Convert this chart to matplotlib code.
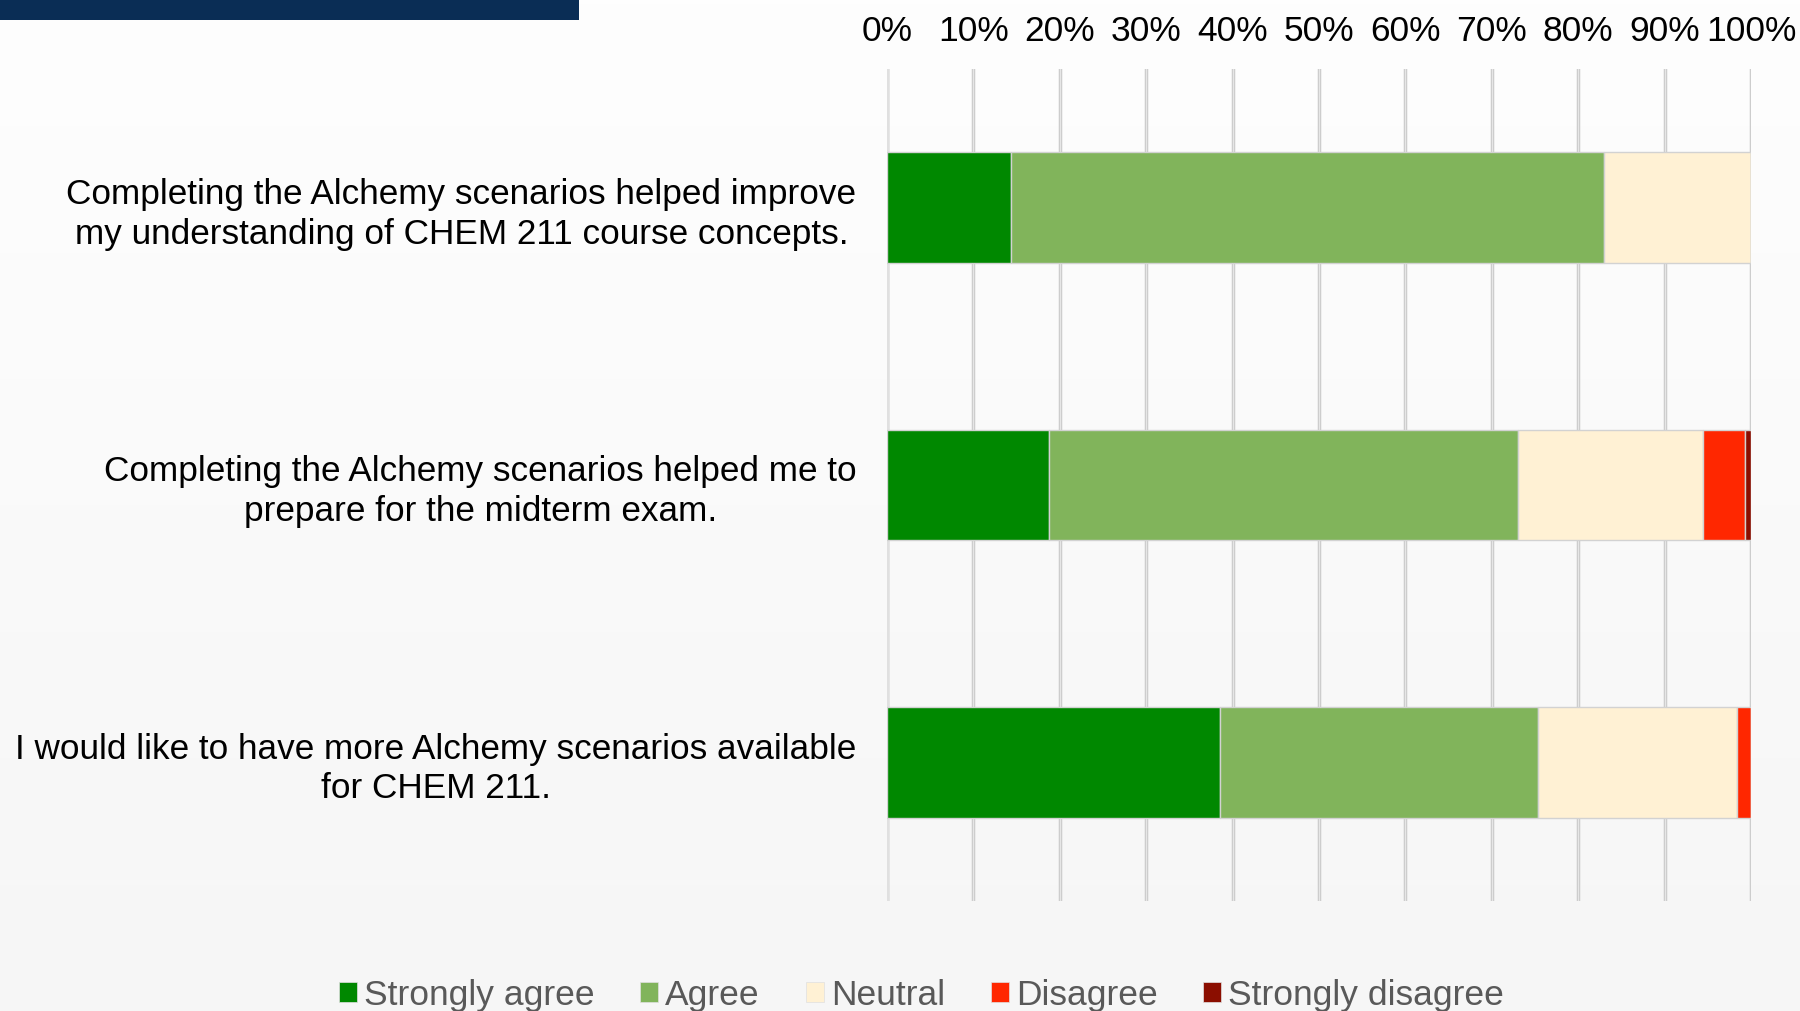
import numpy as np
import matplotlib
matplotlib.use("Agg")
import matplotlib.pyplot as plt
from matplotlib.patches import Rectangle, Patch
from matplotlib.colors import LinearSegmentedColormap

plt.rcParams['font.family'] = ['Liberation Sans', 'DejaVu Sans']

categories = [
    "Completing the Alchemy scenarios helped improve\nmy understanding of CHEM 211 course concepts.",
    "Completing the Alchemy scenarios helped me to\nprepare for the midterm exam.",
    "I would like to have more Alchemy scenarios available\nfor CHEM 211.",
]
series_names = ["Strongly agree", "Agree", "Neutral", "Disagree", "Strongly disagree"]
strongly_agree = [14.4, 18.7, 38.5]
agree = [68.6, 54.3, 36.8]
neutral = [17.0, 21.4, 23.1]
disagree = [0.0, 4.9, 1.6]
strongly_disagree = [0.0, 0.7, 0.0]
tick_values = [0, 10, 20, 30, 40, 50, 60, 70, 80, 90, 100]
tick_labels = [f"{v}%" for v in tick_values]

colors = ["#008800", "#81b45b", "#fff1d4", "#ff2700", "#8b0e00"]

fig = plt.figure(figsize=(18, 10.11), dpi=100)

# background gradient
bg = fig.add_axes([0, 0, 1, 1], zorder=-10)
grad = np.linspace(0, 1, 256).reshape(-1, 1)
cm = LinearSegmentedColormap.from_list("bg", ["#fefefe", "#f6f6f6"])
bg.imshow(grad, aspect='auto', cmap=cm, extent=[0, 1, 0, 1], origin='upper')
bg.axis('off')

# navy header strip
fig.patches.append(Rectangle((0, 1 - 19.5 / 1011), 579 / 1800, 19.5 / 1011,
                             transform=fig.transFigure, facecolor="#0a2d55",
                             edgecolor='none', zorder=5))

ax = fig.add_axes([887 / 1800, 1 - 901 / 1011, (1751 - 887) / 1800, (901 - 69) / 1011])
ax.patch.set_alpha(0)

y = np.arange(len(categories))
series = [strongly_agree, agree, neutral, disagree, strongly_disagree]
left = np.zeros(len(categories))
for vals, c, name in zip(series, colors, series_names):
    vals = np.array(vals)
    ax.barh(y, vals, left=left, height=0.40, color=c, edgecolor='#d2d2d2',
            linewidth=1.0, zorder=3, label=name)
    left += vals

ax.set_xlim(0, 100)
ax.set_ylim(2.5, -0.5)
ax.set_xticks(tick_values)
ax.set_xticklabels(tick_labels, fontsize=25.5, color='black')
ax.xaxis.tick_top()
ax.tick_params(axis='x', length=0, pad=15)
ax.set_yticks(y)
ax.set_yticklabels(categories, fontsize=25.3, color='black')
for lab in ax.get_yticklabels():
    lab.set_multialignment('center')
    lab.set_linespacing(1.25)
ax.tick_params(axis='y', length=0, pad=22)
for s in ax.spines.values():
    s.set_visible(False)
for v in tick_values:
    if v == 0:
        ax.axvline(v, color='#e0e0e0', lw=4, zorder=1)
    else:
        ax.axvline(v, color='#c8c8c8', lw=2.5, zorder=1)
        ax.axvline(v, color='#e6e6e6', lw=1.0, zorder=1.5)

handles = [Patch(facecolor=c, edgecolor='#e0e0e0', linewidth=0.5) for c in colors]
leg = fig.legend(handles, series_names, loc='center', bbox_to_anchor=(0.512, 0.0155),
                 ncol=5, frameon=False, fontsize=25.5, handlelength=0.5, handleheight=0.5,
                 handletextpad=0.2, columnspacing=1.3, borderpad=0)
for t in leg.get_texts():
    t.set_color('#595959')

fig.savefig("out.png", dpi=100)
